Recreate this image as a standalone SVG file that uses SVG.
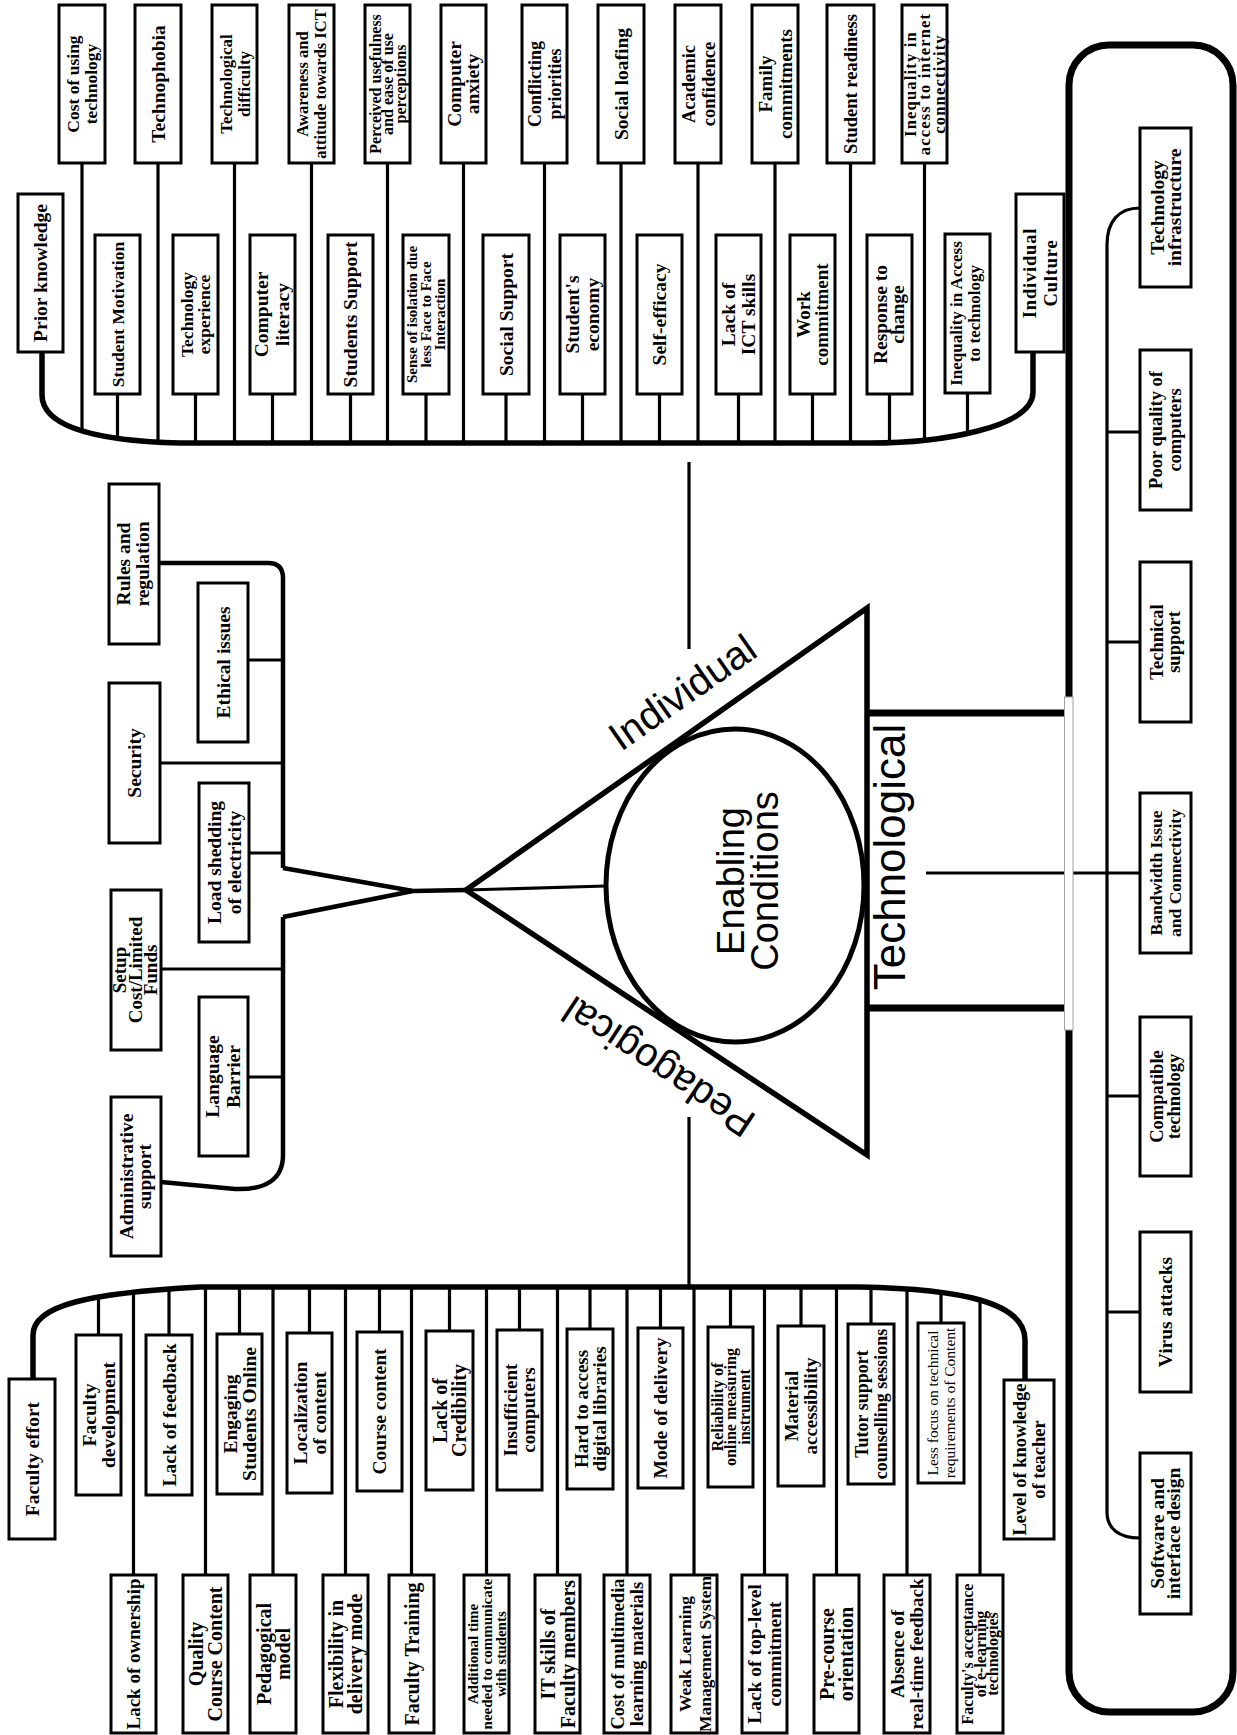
<svg xmlns="http://www.w3.org/2000/svg" width="1237" height="1735" viewBox="0 0 1237 1735">
<style>
.t{font-family:"Liberation Serif","Times New Roman",serif;font-weight:700;text-anchor:middle;fill:#000}
.tn{font-weight:400}
.box{fill:#fff;stroke:#000;stroke-width:3}
.ln{fill:none;stroke:#000;stroke-width:3.2}
.bus{fill:none;stroke:#000;stroke-width:5.5}
.fork{fill:none;stroke:#000;stroke-width:4.5}
.thick{fill:none;stroke:#000;stroke-width:7}
.sans{font-family:"Liberation Sans",Arial,sans-serif;fill:#000}
</style>
<rect width="1237" height="1735" fill="#fff"/>

<!-- connectors -->
<g id="connectors">
  <!-- individual bus -->
  <path class="bus" d="M42,352 V395 C42,428 100,441 180,443 H870 C940,443 1033,428 1033,392 V352"/>
  <path class="ln" d="M82,163V431 M158,163V443 M234.5,163V443 M311.5,163V443 M387.5,163V443 M463.5,163V443 M544.5,163V443 M621,163V443 M698,163V443 M775,163V443 M850.5,163V443 M924.5,163V440"/>
  <path class="ln" d="M117.5,394V438 M195.5,394V443 M272.5,394V443 M350.5,394V443 M426,394V443 M506,394V443 M582.5,394V443 M659.5,394V443 M738.5,394V443 M812.5,394V443 M889.5,394V443 M967.5,393V434"/>
  <path class="ln" stroke-width="3.5" d="M689,462V649"/>
  <!-- pedagogical bus -->
  <path class="bus" d="M33,1379 V1335 C33,1305 90,1293 200,1287 H860 C960,1289 1025,1302 1025,1340 V1380"/>
  <path class="ln" d="M98.5,1296V1335 M169,1289V1335 M239.5,1287V1334 M309.5,1287V1333 M379.5,1287V1332 M449.5,1287V1331 M519.5,1287V1330 M590,1287V1329 M660.5,1287V1328 M730.5,1287V1327 M801,1287V1326 M871,1287V1324 M941,1292V1323"/>
  <path class="ln" d="M133.5,1292V1575 M205.5,1287V1575 M273,1287V1575 M345.5,1287V1575 M411.5,1287V1575 M486.5,1287V1575 M557.5,1287V1575 M627,1287V1575 M694,1287V1575 M764.5,1287V1575 M836.5,1287V1575 M907,1289V1575 M980,1300V1575"/>
  <path class="ln" stroke-width="3.5" d="M689,1117V1287"/>
  <!-- enabling conditions branch -->
  <path class="fork" d="M466,890 L413,891 M413,891 L283,868 M413,891 L283,917"/>
  <path class="fork" d="M283,868 V578 Q283,563 268,563 H160"/>
  <path class="fork" d="M283,917 V1155 C283,1180 265,1190 235,1189 L161,1182"/>
  <path class="ln" d="M249,660H283 M160,763H283 M249,853H283 M161,969H283 M248,1077H283"/>
  <path class="ln" stroke-width="3.5" d="M466,890 L606,886"/>
  <!-- technological branch -->
  <path class="thick" d="M867,713H1065 M867,1008H1065"/>
  <path class="ln" stroke-width="3.5" d="M926,873H1140"/>
  <path class="ln" stroke-width="3.5" d="M1140,208 C1118,208 1107,222 1107,245 V1512 C1107,1528 1118,1538 1140,1538"/>
  <path class="ln" d="M1107,432H1140 M1107,642H1140 M1107,1096H1140 M1107,1312H1140"/>
</g>

<!-- technological container -->
<g id="tech-frame">
  <rect x="1069" y="45" width="164" height="1667" rx="40" fill="none" stroke="#000" stroke-width="7"/>
  <rect x="1064.5" y="697" width="8.5" height="333" fill="#fff" stroke="#a0a0a0" stroke-width="1"/>
</g>

<!-- core -->
<g id="core">
  <polygon points="466,890 867,608 867,1155" fill="none" stroke="#000" stroke-width="5.5"/>
  <ellipse cx="735" cy="885.5" rx="129" ry="156.5" fill="none" stroke="#000" stroke-width="5"/>
  <text class="sans" font-size="38" text-anchor="middle" transform="translate(735 881) rotate(-90)"><tspan x="0" y="9">Enabling</tspan><tspan x="0" y="43">Conditions</tspan></text>
  <text class="sans" font-size="40" transform="translate(621 752) rotate(-35)">Individual</text>
  <text class="sans" font-size="40" transform="translate(758 1116) rotate(-146.5)">Pedagogical</text>
  <text class="sans" font-size="44" text-anchor="middle" transform="translate(905 857) rotate(-90)">Technological</text>
</g>

<!-- individual: outer row -->
<g id="n-cost"><rect class="box" x="59" y="5" width="46" height="158"/><text class="t" font-size="17.5" transform="translate(82 84) rotate(-90)"><tspan x="0" y="-2.9">Cost of using</tspan><tspan x="0" y="15.1">technology</tspan></text></g>
<g id="n-technophobia"><rect class="box" x="135" y="5" width="46" height="158"/><text class="t" font-size="19.5" transform="translate(158 84) rotate(-90)"><tspan x="0" y="6.8">Technophobia</tspan></text></g>
<g id="n-techdiff"><rect class="box" x="212" y="5" width="45" height="158"/><text class="t" font-size="17" transform="translate(234.5 84) rotate(-90)"><tspan x="0" y="-3">Technological</tspan><tspan x="0" y="15">difficulty</tspan></text></g>
<g id="n-awareness"><rect class="box" x="289" y="5" width="45" height="158"/><text class="t" font-size="16.5" transform="translate(311.5 84) rotate(-90)"><tspan x="0" y="-3.2">Awareness and</tspan><tspan x="0" y="14.8">attitude towards ICT</tspan></text></g>
<g id="n-perceived"><rect class="box" x="365" y="5" width="45" height="158"/><text class="t" font-size="16" transform="translate(387.5 84) rotate(-90)"><tspan x="0" y="-7">Perceived usefulness</tspan><tspan x="0" y="5.5">and ease of use</tspan><tspan x="0" y="18">perceptions</tspan></text></g>
<g id="n-anxiety"><rect class="box" x="441" y="5" width="45" height="158"/><text class="t" font-size="19.5" transform="translate(463.5 84) rotate(-90)"><tspan x="0" y="-2.5">Computer</tspan><tspan x="0" y="15.5">anxiety</tspan></text></g>
<g id="n-conflict"><rect class="box" x="522" y="5" width="45" height="158"/><text class="t" font-size="18" transform="translate(544.5 84) rotate(-90)"><tspan x="0" y="-3.7">Conflicting</tspan><tspan x="0" y="16.3">priorities</tspan></text></g>
<g id="n-loafing"><rect class="box" x="598" y="5" width="46" height="158"/><text class="t" font-size="19.5" transform="translate(621 84) rotate(-90)"><tspan x="0" y="6.8">Social loafing</tspan></text></g>
<g id="n-academic"><rect class="box" x="675" y="5" width="46" height="158"/><text class="t" font-size="18.5" transform="translate(698 84) rotate(-90)"><tspan x="0" y="-3.5">Academic</tspan><tspan x="0" y="16.5">confidence</tspan></text></g>
<g id="n-family"><rect class="box" x="752" y="5" width="46" height="158"/><text class="t" font-size="19" transform="translate(775 84) rotate(-90)"><tspan x="0" y="-3.4">Family</tspan><tspan x="0" y="16.6">commitments</tspan></text></g>
<g id="n-readiness"><rect class="box" x="827" y="5" width="47" height="158"/><text class="t" font-size="18.5" transform="translate(850.5 84) rotate(-90)"><tspan x="0" y="6.5">Student readiness</tspan></text></g>
<g id="n-internet"><rect class="box" x="902" y="5" width="45" height="158"/><text class="t" font-size="16.5" letter-spacing="1.2" transform="translate(924.5 84) rotate(-90)"><tspan x="0" y="-8.7">Inequality in</tspan><tspan x="0" y="5.8">access to internet</tspan><tspan x="0" y="20.3">connectivity</tspan></text></g>

<!-- individual: inner row -->
<g id="n-prior"><rect class="box" x="18" y="194" width="45" height="158"/><text class="t" font-size="19.5" transform="translate(40.5 273) rotate(-90)"><tspan x="0" y="6.8">Prior knowledge</tspan></text></g>
<g id="n-motivation"><rect class="box" x="95" y="235" width="45" height="159"/><text class="t" font-size="17.5" transform="translate(117.5 314.5) rotate(-90)"><tspan x="0" y="6.1">Student Motivation</tspan></text></g>
<g id="n-techexp"><rect class="box" x="173" y="235" width="45" height="159"/><text class="t" font-size="17.5" transform="translate(195.5 314.5) rotate(-90)"><tspan x="0" y="-2.4">Technology</tspan><tspan x="0" y="14.6">experience</tspan></text></g>
<g id="n-complit"><rect class="box" x="250" y="235" width="45" height="159"/><text class="t" font-size="19.5" transform="translate(272.5 314.5) rotate(-90)"><tspan x="0" y="-5">Computer</tspan><tspan x="0" y="16">literacy</tspan></text></g>
<g id="n-studsupport"><rect class="box" x="328" y="235" width="45" height="159"/><text class="t" font-size="19.5" transform="translate(350.5 314.5) rotate(-90)"><tspan x="0" y="6.8">Students Support</tspan></text></g>
<g id="n-isolation"><rect class="box" x="403" y="235" width="46" height="159"/><text class="t" font-size="15" transform="translate(426 314.5) rotate(-90)"><tspan x="0" y="-8.7">Sense of isolation due</tspan><tspan x="0" y="5.3">less Face to Face</tspan><tspan x="0" y="19.3">Interaction</tspan></text></g>
<g id="n-socsupport"><rect class="box" x="483" y="235" width="46" height="159"/><text class="t" font-size="19.5" transform="translate(506 314.5) rotate(-90)"><tspan x="0" y="6.8">Social Support</tspan></text></g>
<g id="n-economy"><rect class="box" x="560" y="235" width="45" height="159"/><text class="t" font-size="19.5" transform="translate(582.5 314.5) rotate(-90)"><tspan x="0" y="-4">Student's</tspan><tspan x="0" y="16">economy</tspan></text></g>
<g id="n-selfeff"><rect class="box" x="637" y="235" width="45" height="159"/><text class="t" font-size="19.5" transform="translate(659.5 314.5) rotate(-90)"><tspan x="0" y="6.8">Self-efficacy</tspan></text></g>
<g id="n-ictskills"><rect class="box" x="716" y="235" width="45" height="159"/><text class="t" font-size="19.5" transform="translate(738.5 314.5) rotate(-90)"><tspan x="0" y="-3.2">Lack of</tspan><tspan x="0" y="16.8">ICT skills</tspan></text></g>
<g id="n-work"><rect class="box" x="790" y="235" width="45" height="159"/><text class="t" font-size="19" transform="translate(812.5 314.5) rotate(-90)"><tspan x="0" y="-2.4">Work</tspan><tspan x="0" y="15.6">commitment</tspan></text></g>
<g id="n-response"><rect class="box" x="867" y="235" width="45" height="159"/><text class="t" font-size="19.5" transform="translate(889.5 314.5) rotate(-90)"><tspan x="0" y="-2.5">Response to</tspan><tspan x="0" y="14">change</tspan></text></g>
<g id="n-ineqaccess"><rect class="box" x="945" y="234" width="45" height="159"/><text class="t" font-size="17" transform="translate(967.5 313.5) rotate(-90)"><tspan x="0" y="-6">Inequality in Access</tspan><tspan x="0" y="12">to technology</tspan></text></g>
<g id="n-culture"><rect class="box" x="1016" y="194" width="48" height="158"/><text class="t" font-size="18.5" letter-spacing="0.8" transform="translate(1040 273) rotate(-90)"><tspan x="0" y="-4">Individual</tspan><tspan x="0" y="17">Culture</tspan></text></g>

<!-- enabling conditions group -->
<g id="n-rules"><rect class="box" x="109" y="484" width="50" height="160"/><text class="t" font-size="19.5" transform="translate(134 564) rotate(-90)"><tspan x="0" y="-4.5">Rules and</tspan><tspan x="0" y="15">regulation</tspan></text></g>
<g id="n-ethical"><rect class="box" x="198" y="583" width="50" height="159"/><text class="t" font-size="19.5" transform="translate(223 662.5) rotate(-90)"><tspan x="0" y="6.8">Ethical issues</tspan></text></g>
<g id="n-security"><rect class="box" x="109" y="683" width="51" height="160"/><text class="t" font-size="19.5" transform="translate(134.5 763) rotate(-90)"><tspan x="0" y="6.8">Security</tspan></text></g>
<g id="n-loadshed"><rect class="box" x="199" y="783" width="50" height="159"/><text class="t" font-size="19.5" transform="translate(224 862.5) rotate(-90)"><tspan x="0" y="-3.2">Load shedding</tspan><tspan x="0" y="16.8">of electricity</tspan></text></g>
<g id="n-setup"><rect class="box" x="111" y="890" width="50" height="160"/><text class="t" font-size="19" transform="translate(136 970) rotate(-90)"><tspan x="0" y="-10">Setup</tspan><tspan x="0" y="5.5">Cost/Limited</tspan><tspan x="0" y="21">Funds</tspan></text></g>
<g id="n-language"><rect class="box" x="199" y="997" width="49" height="159"/><text class="t" font-size="19.5" transform="translate(223.5 1076.5) rotate(-90)"><tspan x="0" y="-5">Language</tspan><tspan x="0" y="16">Barrier</tspan></text></g>
<g id="n-admin"><rect class="box" x="111" y="1097" width="50" height="159"/><text class="t" font-size="19.5" transform="translate(136 1176.5) rotate(-90)"><tspan x="0" y="-3.5">Administrative</tspan><tspan x="0" y="14.5">support</tspan></text></g>

<!-- technological group -->
<g id="n-infra"><rect class="box" x="1140" y="128" width="51" height="159"/><text class="t" font-size="19.5" transform="translate(1165.5 207.5) rotate(-90)"><tspan x="0" y="-2">Technology</tspan><tspan x="0" y="15.5">infrastructure</tspan></text></g>
<g id="n-poorq"><rect class="box" x="1140" y="350" width="51" height="160"/><text class="t" font-size="18.5" transform="translate(1165.5 430) rotate(-90)"><tspan x="0" y="-3.5">Poor quality of</tspan><tspan x="0" y="15.5">computers</tspan></text></g>
<g id="n-techsupport"><rect class="box" x="1140" y="562" width="51" height="160"/><text class="t" font-size="18.5" transform="translate(1165.5 642) rotate(-90)"><tspan x="0" y="-3">Technical</tspan><tspan x="0" y="14.5">support</tspan></text></g>
<g id="n-bandwidth"><rect class="box" x="1140" y="793" width="51" height="160"/><text class="t" font-size="17.5" transform="translate(1165.5 873) rotate(-90)"><tspan x="0" y="-4">Bandwidth Issue</tspan><tspan x="0" y="15">and Connectivity</tspan></text></g>
<g id="n-compat"><rect class="box" x="1140" y="1017" width="51" height="159"/><text class="t" font-size="18.5" transform="translate(1165.5 1096.5) rotate(-90)"><tspan x="0" y="-3">Compatible</tspan><tspan x="0" y="14">technology</tspan></text></g>
<g id="n-virus"><rect class="box" x="1140" y="1232" width="51" height="160"/><text class="t" font-size="19.5" transform="translate(1165.5 1312) rotate(-90)"><tspan x="0" y="6.8">Virus attacks</tspan></text></g>
<g id="n-software"><rect class="box" x="1140" y="1453" width="51" height="161"/><text class="t" font-size="19.5" transform="translate(1165.5 1533.5) rotate(-90)"><tspan x="0" y="-2">Software and</tspan><tspan x="0" y="14.5">interface design</tspan></text></g>

<!-- pedagogical: inner row -->
<g id="n-faceffort"><rect class="box" x="9" y="1379" width="46" height="160"/><text class="t" font-size="19.5" transform="translate(32 1459) rotate(-90)"><tspan x="0" y="6.8">Faculty effort</tspan></text></g>
<g id="n-facdev"><rect class="box" x="76" y="1335" width="45" height="160"/><text class="t" font-size="19.5" transform="translate(98.5 1415) rotate(-90)"><tspan x="0" y="-2.7">Faculty</tspan><tspan x="0" y="16.3">development</tspan></text></g>
<g id="n-feedback"><rect class="box" x="146" y="1335" width="46" height="160"/><text class="t" font-size="19.5" transform="translate(169 1415) rotate(-90)"><tspan x="0" y="6.8">Lack of feedback</tspan></text></g>
<g id="n-engaging"><rect class="box" x="217" y="1334" width="45" height="160"/><text class="t" font-size="19.5" transform="translate(239.5 1414) rotate(-90)"><tspan x="0" y="-2.7">Engaging</tspan><tspan x="0" y="16.3">Students Online</tspan></text></g>
<g id="n-localization"><rect class="box" x="287" y="1333" width="45" height="160"/><text class="t" font-size="19.5" transform="translate(309.5 1413) rotate(-90)"><tspan x="0" y="-2.7">Localization</tspan><tspan x="0" y="16.3">of content</tspan></text></g>
<g id="n-coursecontent"><rect class="box" x="357" y="1332" width="45" height="159"/><text class="t" font-size="19.5" transform="translate(379.5 1411.5) rotate(-90)"><tspan x="0" y="6.8">Course content</tspan></text></g>
<g id="n-credibility"><rect class="box" x="426" y="1331" width="47" height="159"/><text class="t" font-size="20" transform="translate(449.5 1410.5) rotate(-90)"><tspan x="0" y="-2.5">Lack of</tspan><tspan x="0" y="16.5">Credibility</tspan></text></g>
<g id="n-insufficient"><rect class="box" x="497" y="1330" width="45" height="160"/><text class="t" font-size="19" transform="translate(519.5 1410) rotate(-90)"><tspan x="0" y="-2.4">Insufficient</tspan><tspan x="0" y="15.6">computers</tspan></text></g>
<g id="n-digital"><rect class="box" x="567" y="1329" width="46" height="160"/><text class="t" font-size="19" transform="translate(590 1409) rotate(-90)"><tspan x="0" y="-2.4">Hard to access</tspan><tspan x="0" y="15.6">digital libraries</tspan></text></g>
<g id="n-mode"><rect class="box" x="638" y="1328" width="45" height="160"/><text class="t" font-size="19.5" transform="translate(660.5 1408) rotate(-90)"><tspan x="0" y="6.8">Mode of delivery</tspan></text></g>
<g id="n-reliability"><rect class="box" x="708" y="1327" width="45" height="160"/><text class="t" font-size="16" transform="translate(730.5 1407) rotate(-90)"><tspan x="0" y="-7.9">Reliability of</tspan><tspan x="0" y="5.6">online measuring</tspan><tspan x="0" y="19.1">instrument</tspan></text></g>
<g id="n-material"><rect class="box" x="778" y="1326" width="46" height="160"/><text class="t" font-size="19" transform="translate(801 1406) rotate(-90)"><tspan x="0" y="-2.9">Material</tspan><tspan x="0" y="16.1">accessibility</tspan></text></g>
<g id="n-tutor"><rect class="box" x="848" y="1324" width="46" height="160"/><text class="t" font-size="18" transform="translate(871 1404) rotate(-90)"><tspan x="0" y="-3.2">Tutor support</tspan><tspan x="0" y="15.8">counselling sessions</tspan></text></g>
<g id="n-lessfocus"><rect class="box" x="918" y="1323" width="46" height="160"/><text class="t tn" font-size="15.5" transform="translate(941 1403) rotate(-90)"><tspan x="0" y="-3">Less focus on technical</tspan><tspan x="0" y="14">requirements of Content</tspan></text></g>
<g id="n-levelknow"><rect class="box" x="1004" y="1380" width="50" height="159"/><text class="t" font-size="18.5" transform="translate(1029 1459.5) rotate(-90)"><tspan x="0" y="-3">Level of knowledge</tspan><tspan x="0" y="16">of teacher</tspan></text></g>

<!-- pedagogical: outer row -->
<g id="n-ownership"><rect class="box" x="111" y="1575" width="45" height="158"/><text class="t" font-size="19" transform="translate(133.5 1654) rotate(-90)"><tspan x="0" y="6.7">Lack of ownership</tspan></text></g>
<g id="n-quality"><rect class="box" x="183" y="1575" width="45" height="158"/><text class="t" font-size="20" transform="translate(205.5 1654) rotate(-90)"><tspan x="0" y="-2.5">Quality</tspan><tspan x="0" y="16.5">Course Content</tspan></text></g>
<g id="n-pedmodel"><rect class="box" x="250" y="1575" width="46" height="158"/><text class="t" font-size="20" transform="translate(273 1654) rotate(-90)"><tspan x="0" y="-2.5">Pedagogical</tspan><tspan x="0" y="16.5">model</tspan></text></g>
<g id="n-flex"><rect class="box" x="323" y="1575" width="45" height="158"/><text class="t" font-size="20" transform="translate(345.5 1654) rotate(-90)"><tspan x="0" y="-2.5">Flexibility in</tspan><tspan x="0" y="16.5">delivery mode</tspan></text></g>
<g id="n-training"><rect class="box" x="389" y="1575" width="45" height="158"/><text class="t" font-size="20" transform="translate(411.5 1654) rotate(-90)"><tspan x="0" y="7">Faculty Training</tspan></text></g>
<g id="n-addtime"><rect class="box" x="464" y="1575" width="45" height="158"/><text class="t" font-size="15" transform="translate(486.5 1654) rotate(-90)"><tspan x="0" y="-8.7">Additional time</tspan><tspan x="0" y="5.3">needed to communicate</tspan><tspan x="0" y="19.3">with students</tspan></text></g>
<g id="n-itskills"><rect class="box" x="535" y="1575" width="45" height="158"/><text class="t" font-size="20" transform="translate(557.5 1654) rotate(-90)"><tspan x="0" y="-3">IT skills of</tspan><tspan x="0" y="17">Faculty members</tspan></text></g>
<g id="n-multimedia"><rect class="box" x="604" y="1575" width="46" height="158"/><text class="t" font-size="18.5" transform="translate(627 1654) rotate(-90)"><tspan x="0" y="-3">Cost of multimedia</tspan><tspan x="0" y="16">learning materials</tspan></text></g>
<g id="n-lms"><rect class="box" x="671" y="1575" width="46" height="158"/><text class="t" font-size="17.5" transform="translate(694 1654) rotate(-90)"><tspan x="0" y="-3.5">Weak Learning</tspan><tspan x="0" y="16.5">Management System</tspan></text></g>
<g id="n-toplevel"><rect class="box" x="742" y="1575" width="45" height="158"/><text class="t" font-size="19.5" transform="translate(764.5 1654) rotate(-90)"><tspan x="0" y="-3.2">Lack of top-level</tspan><tspan x="0" y="16.8">commitment</tspan></text></g>
<g id="n-precourse"><rect class="box" x="814" y="1575" width="45" height="158"/><text class="t" font-size="20" transform="translate(836.5 1654) rotate(-90)"><tspan x="0" y="-2.5">Pre-course</tspan><tspan x="0" y="16.5">orientation</tspan></text></g>
<g id="n-absence"><rect class="box" x="884" y="1575" width="46" height="158"/><text class="t" font-size="19" transform="translate(907 1654) rotate(-90)"><tspan x="0" y="-2.9">Absence of</tspan><tspan x="0" y="16.1">real-time feedback</tspan></text></g>
<g id="n-acceptance"><rect class="box" x="957" y="1575" width="46" height="158"/><text class="t" font-size="16" transform="translate(980 1654) rotate(-90)"><tspan x="0" y="-7">Faculty's acceptance</tspan><tspan x="0" y="5.6">of e-learning</tspan><tspan x="0" y="18.2">technologies</tspan></text></g>
</svg>
